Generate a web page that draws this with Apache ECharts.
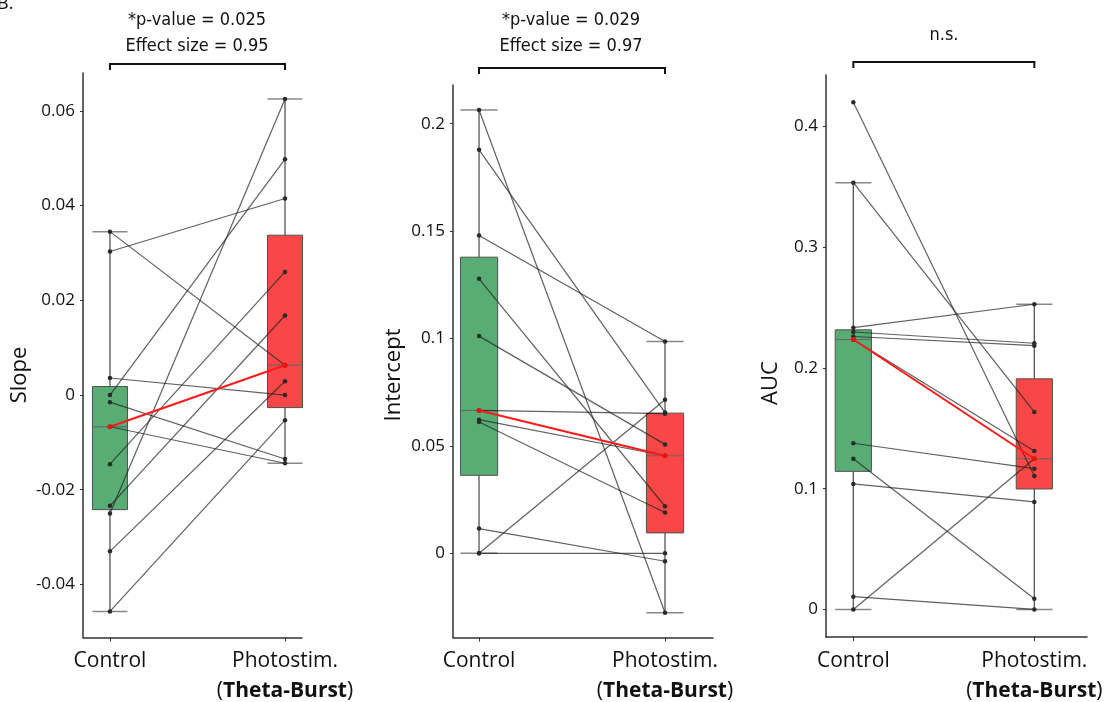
<!DOCTYPE html>
<html><head><meta charset="utf-8">
<script src="https://cdn.jsdelivr.net/npm/echarts@6/dist/echarts.min.js"></script>
<style>html,body{margin:0;padding:0;background:#fff}#c{width:1106px;height:702px}</style>
</head><body><div id="c"></div>
<script>
// ---- data (paired subjects, same order in control and photostim arrays) ----
const groups = ['Control', 'Photostim.'];
const groupSub = ['', 'Theta-Burst'];

const slopeControl   = [0.0345, 0.0303, 0.0036, 0, -0.0015, -0.0067, -0.0146, -0.0234, -0.025, -0.033, -0.0457];
const slopePhotostim = [0.0063, 0.0415, 0, 0.0498, -0.0135, -0.0144, 0.026, 0.0168, 0.0625, 0.0029, -0.0053];

const interceptControl   = [0.2064, 0.1878, 0.1479, 0.1278, 0.1011, 0.0665, 0.0622, 0.0611, 0.0115, 0, 0];
const interceptPhotostim = [-0.0277, 0.0655, 0.0986, 0.0219, 0.0507, 0.065, 0.0454, 0.019, -0.0037, 0, 0.0715];

const aucControl   = [0.42, 0.3533, 0.2333, 0.2297, 0.226, 0.2235, 0.1376, 0.1248, 0.1039, 0.0106, 0];
const aucPhotostim = [0.1105, 0.1635, 0.2527, 0.2204, 0.2184, 0.1312, 0.1166, 0.0089, 0.089, 0, 0.1248];

const slopeTicks = [-0.04, -0.02, 0, 0.02, 0.04, 0.06];
const slopeTickLabels = ['-0.04', '-0.02', '0', '0.02', '0.04', '0.06'];
const interceptTicks = [0, 0.05, 0.1, 0.15, 0.2];
const interceptTickLabels = ['0', '0.05', '0.1', '0.15', '0.2'];
const aucTicks = [0, 0.1, 0.2, 0.3, 0.4];
const aucTickLabels = ['0', '0.1', '0.2', '0.3', '0.4'];

const axisNames = ['Slope', 'Intercept', 'AUC'];
const statLines = [['*p-value = 0.025', 'Effect size = 0.95'], ['*p-value = 0.029', 'Effect size = 0.97'], ['n.s.']];

// ---- layout / style ----
const panels = [
  {ctrl: slopeControl, photo: slopePhotostim, ticks: slopeTicks, labels: slopeTickLabels,
   grid: {left: 83, top: 73, width: 219, height: 566}, xMin: -0.154, xMax: 1.097, yMin: -0.0512, yMax: 0.068,
   nameX: 20, nameY: 375, bracketY: 64, textX: 197},
  {ctrl: interceptControl, photo: interceptPhotostim, ticks: interceptTicks, labels: interceptTickLabels,
   grid: {left: 453, top: 85, width: 260, height: 553}, xMin: -0.14, xMax: 1.258, yMin: -0.0392, yMax: 0.218,
   nameX: 394, nameY: 375, bracketY: 68, textX: 571},
  {ctrl: aucControl, photo: aucPhotostim, ticks: aucTicks, labels: aucTickLabels,
   grid: {left: 826, top: 75, width: 261, height: 562}, xMin: -0.151, xMax: 1.291, yMin: -0.0228, yMax: 0.4425,
   nameX: 771, nameY: 383, bracketY: 62, textX: 944}
];
const boxFill = ['#58ad74', '#f94646'];
const FONT = "'Open Sans', 'Noto Sans', sans-serif";
const NARROW = "'Liberation Sans Narrow', 'DejaVu Sans Condensed', sans-serif";

function pct(arr, p) {
  const s = [...arr].sort((a, b) => a - b);
  const idx = (s.length - 1) * p, lo = Math.floor(idx), hi = Math.ceil(idx);
  return s[lo] + (s[hi] - s[lo]) * (idx - lo);
}
function stats(arr) {
  const q1 = pct(arr, 0.25), med = pct(arr, 0.5), q3 = pct(arr, 0.75), iqr = q3 - q1;
  const lo = Math.min(...arr.filter(v => v >= q1 - 1.5 * iqr));
  const hi = Math.max(...arr.filter(v => v <= q3 + 1.5 * iqr));
  return [q1, med, q3, lo, hi];
}

const grids = [], xAxes = [], yAxes = [], series = [], graphics = [];

panels.forEach((p, i) => {
  grids.push(Object.assign({containLabel: false}, p.grid));
  xAxes.push({
    gridIndex: i, type: 'value', min: p.xMin, max: p.xMax,
    axisLine: {show: true, onZero: false, lineStyle: {color: '#333', width: 1.5}},
    splitLine: {show: false},
    axisTick: {show: true, customValues: [0, 1], length: 4, lineStyle: {color: '#333', width: 1}},
    axisLabel: {
      customValues: [0, 1], margin: 9,
      formatter: v => {
        const k = Math.round(v);
        let s = '{n|' + groups[k] + '}';
        if (groupSub[k]) s += '\n{n|(}{b|' + groupSub[k] + '}{n|)}';
        return s;
      },
      rich: {
        n: {fontSize: 21, fontFamily: FONT, color: '#111', lineHeight: 30},
        b: {fontSize: 21, fontFamily: FONT, fontWeight: 'bold', color: '#111', lineHeight: 30}
      }
    }
  });
  yAxes.push({
    gridIndex: i, type: 'value', min: p.yMin, max: p.yMax,
    axisLine: {show: true, onZero: false, lineStyle: {color: '#333', width: 1.5}},
    splitLine: {show: false},
    axisTick: {show: true, customValues: p.ticks, length: 3, lineStyle: {color: '#333'}},
    axisLabel: {
      customValues: p.ticks, margin: 8, fontSize: 17, fontFamily: FONT, color: '#111',
      formatter: v => {
        const k = p.ticks.findIndex(t => Math.abs(t - v) < 1e-9);
        return k >= 0 ? p.labels[k] : '';
      }
    }
  });

  const sc = stats(p.ctrl), sp = stats(p.photo);
  series.push({
    type: 'custom', xAxisIndex: i, yAxisIndex: i, z: 1,
    data: [[0].concat(sc), [1].concat(sp)],
    encode: {x: 0, y: [1, 2, 3, 4, 5]},
    renderItem: (params, api) => {
      const x = api.value(0), q1 = api.value(1), med = api.value(2), q3 = api.value(3), lo = api.value(4), hi = api.value(5);
      const hw = 0.1;
      const tl = api.coord([x - hw, q3]), br = api.coord([x + hw, q1]);
      const cx = api.coord([x, med])[0];
      const yMed = api.coord([x, med])[1], yLo = api.coord([x, lo])[1], yHi = api.coord([x, hi])[1];
      const wl = {stroke: '#555', lineWidth: 1.3};
      const cap = {stroke: '#888', lineWidth: 1.5};
      return {type: 'group', children: [
        {type: 'line', shape: {x1: cx, y1: tl[1], x2: cx, y2: yHi}, style: wl},
        {type: 'line', shape: {x1: cx, y1: br[1], x2: cx, y2: yLo}, style: wl},
        {type: 'line', shape: {x1: tl[0], y1: yHi, x2: br[0], y2: yHi}, style: cap},
        {type: 'line', shape: {x1: tl[0], y1: yLo, x2: br[0], y2: yLo}, style: cap},
        {type: 'rect', shape: {x: tl[0], y: tl[1], width: br[0] - tl[0], height: br[1] - tl[1]},
         style: {fill: boxFill[params.dataIndex], stroke: '#505050', lineWidth: 1}},
        {type: 'line', shape: {x1: tl[0], y1: yMed, x2: br[0], y2: yMed}, style: {stroke: '#666', lineWidth: 1}}
      ]};
    }
  });

  p.ctrl.forEach((c, j) => {
    series.push({
      type: 'line', xAxisIndex: i, yAxisIndex: i, z: 3,
      data: [[0, c], [1, p.photo[j]]],
      symbol: 'circle', symbolSize: 4.5, showSymbol: true,
      lineStyle: {color: 'rgba(35,35,35,0.72)', width: 1.2},
      itemStyle: {color: '#2a2a2a'},
      emphasis: {disabled: true}, animation: false, silent: true
    });
  });
  series.push({
    type: 'line', xAxisIndex: i, yAxisIndex: i, z: 4,
    data: [[0, sc[1]], [1, sp[1]]],
    symbol: 'circle', symbolSize: 5,
    lineStyle: {color: '#ff1a1a', width: 2},
    itemStyle: {color: '#ee1111'},
    emphasis: {disabled: true}, animation: false, silent: true
  });

  // axis name (rotated)
  graphics.push({type: 'text', x: p.nameX, y: p.nameY, rotation: Math.PI / 2,
    style: {text: axisNames[i], font: '22px ' + FONT, fill: '#111', textAlign: 'center', textVerticalAlign: 'middle'}});

  // significance bracket
  const x0 = p.grid.left + (0 - p.xMin) / (p.xMax - p.xMin) * p.grid.width;
  const x1 = p.grid.left + (1 - p.xMin) / (p.xMax - p.xMin) * p.grid.width;
  graphics.push({type: 'polyline', shape: {points: [[x0, p.bracketY + 6], [x0, p.bracketY], [x1, p.bracketY], [x1, p.bracketY + 6]]},
    style: {stroke: '#111', lineWidth: 2, fill: null}});
  const lines = statLines[i];
  if (lines.length === 2) {
    graphics.push({type: 'text', x: p.textX, y: 20, style: {text: lines[0], font: '18px ' + NARROW, fill: '#111', textAlign: 'center', textVerticalAlign: 'middle'}});
    graphics.push({type: 'text', x: p.textX, y: 46, style: {text: lines[1], font: '18px ' + NARROW, fill: '#111', textAlign: 'center', textVerticalAlign: 'middle'}});
  } else {
    graphics.push({type: 'text', x: p.textX, y: 35, style: {text: lines[0], font: '18px ' + NARROW, fill: '#111', textAlign: 'center', textVerticalAlign: 'middle'}});
  }
});

graphics.push({type: 'text', x: -3, y: 4, style: {text: 'B.', font: '18px ' + FONT, fill: '#111', textAlign: 'left', textVerticalAlign: 'middle'}});

const chart = echarts.init(document.getElementById('c'), null, {renderer: 'canvas'});
chart.setOption({
  animation: false,
  backgroundColor: '#fff',
  grid: grids, xAxis: xAxes, yAxis: yAxes, series: series, graphic: graphics
});
</script></body></html>
